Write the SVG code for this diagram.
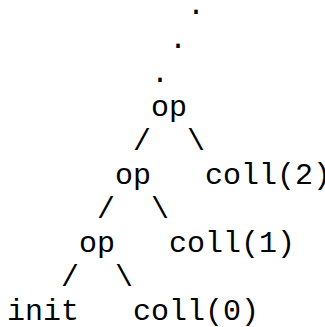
<svg xmlns="http://www.w3.org/2000/svg" width="325" height="327" viewBox="0 0 325 327">
<style>
text { font-family: "Liberation Mono", "Courier New", monospace; font-size: 30px; fill: #000; }
</style>
<rect width="325" height="327" fill="#fff"/>
<g id="ellipsis">
<text x="187" y="14">.</text>
<text x="169" y="48">.</text>
<text x="151" y="82">.</text>
</g>
<g id="connectors">
<text x="133" y="150">/</text>
<text x="187" y="150">\</text>
<text x="97" y="218">/</text>
<text x="151" y="218">\</text>
<text x="61" y="286">/</text>
<text x="115" y="286">\</text>
</g>
<g id="op3"><text x="151" y="116">op</text></g>
<g id="op2"><text x="115" y="184">op</text></g>
<g id="coll2"><text x="205" y="184">coll(2)</text></g>
<g id="op1"><text x="79" y="252">op</text></g>
<g id="coll1"><text x="169" y="252">coll(1)</text></g>
<g id="init"><text x="7" y="320">init</text></g>
<g id="coll0"><text x="133" y="320">coll(0)</text></g>
</svg>
